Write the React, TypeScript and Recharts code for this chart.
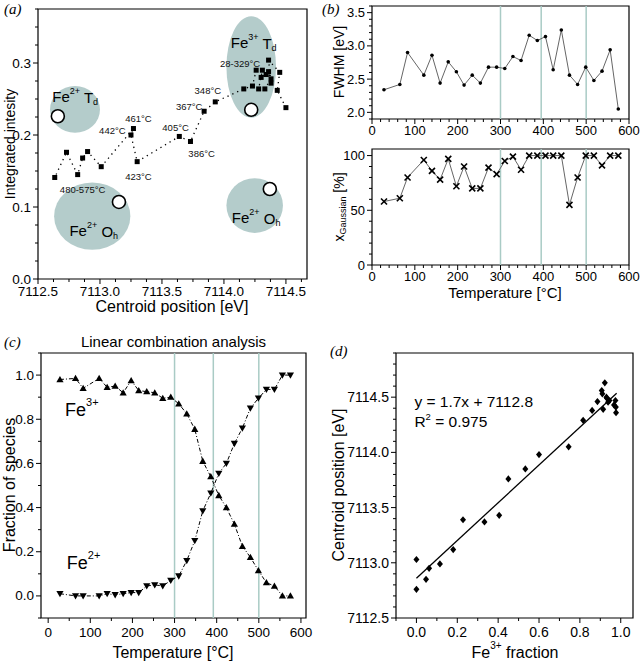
import React from "react"
import {
  ScatterChart,
  Scatter,
  LineChart,
  Line,
  XAxis,
  YAxis,
  ReferenceLine,
  ReferenceArea,
  ReferenceDot,
} from "recharts"

// ---- shared ----
const temps = [28, 65, 83, 121, 140, 159, 178, 197, 215, 234, 253, 272, 291, 310, 329, 348, 367, 386, 405, 423, 442, 461, 480, 499, 518, 537, 556, 575]

// ---- (a) centroid vs intensity, in temperature order ----
const aCentroid = [7114.5, 7114.43, 7114.45, 7114.36, 7114.38, 7114.36, 7114.3, 7114.34, 7114.38, 7114.33, 7114.28, 7114.31, 7114.26, 7114.23, 7114.16, 7113.93, 7113.84, 7113.73, 7113.64, 7113.3, 7113.25, 7113.27, 7113.01, 7112.9, 7112.86, 7112.82, 7112.73, 7112.635]
const aIntensity = [0.238, 0.262, 0.287, 0.304, 0.272, 0.288, 0.28, 0.284, 0.278, 0.264, 0.264, 0.29, 0.29, 0.268, 0.264, 0.246, 0.233, 0.191, 0.198, 0.163, 0.2, 0.209, 0.156, 0.177, 0.168, 0.145, 0.176, 0.141]
const aXTicks = [7112.5, 7113.0, 7113.5, 7114.0, 7114.5]
const aYTicks = [0, 0.1, 0.2, 0.3]
// reference regions (data bounds)
const aRegions = [
  { x1: 7112.597, x2: 7113.0, y1: 0.203, y2: 0.268 },
  { x1: 7112.63, x2: 7113.245, y1: 0.0405, y2: 0.134 },
  { x1: 7114.02, x2: 7114.476, y1: 0.064, y2: 0.14 },
  { x1: 7114.02, x2: 7114.42, y1: 0.224, y2: 0.365 },
]
const aRefCentroid = [7112.66, 7113.153, 7114.22, 7114.37]
const aRefIntensity = [0.226, 0.107, 0.235, 0.125]
const aTempLabels = ["28-329°C", "348°C", "367°C", "461°C", "442°C", "405°C", "386°C", "423°C", "480-575°C"]
const aTempLabelX = [7114.13, 7113.87, 7113.72, 7113.31, 7113.1, 7113.61, 7113.82, 7113.31, 7112.86]
const aTempLabelY = [0.3, 0.262, 0.239, 0.223, 0.206, 0.211, 0.174, 0.143, 0.124]
const aSpecies = [
  { ox: "2+", site: "d", x: 7112.8, y: 0.253 },
  { ox: "3+", site: "d", x: 7114.24, y: 0.328 },
  { ox: "2+", site: "h", x: 7112.95, y: 0.067 },
  { ox: "2+", site: "h", x: 7114.26, y: 0.085 },
]

// ---- (b) ----
const fwhm = [2.34, 2.42, 2.9, 2.56, 2.86, 2.44, 2.76, 2.61, 2.41, 2.56, 2.44, 2.68, 2.68, 2.66, 2.84, 2.78, 3.16, 3.08, 3.14, 2.64, 3.24, 2.56, 2.42, 2.68, 2.48, 2.62, 2.94, 2.05]
const xGauss = [58, 61, 80, 96, 86, 78, 97, 72, 90, 70, 70, 89, 83, 95, 99, 87, 100, 100, 100, 100, 100, 55, 80, 100, 100, 91, 100, 100]
const bLines = [300, 395, 500]
const tempTicks = [0, 100, 200, 300, 400, 500, 600]

// ---- (c) ----
const fe3 = [0.98, 0.985, 0.94, 0.985, 0.945, 0.95, 0.92, 0.975, 0.93, 0.925, 0.92, 0.895, 0.9, 0.87, 0.825, 0.755, 0.61, 0.54, 0.455, 0.4, 0.325, 0.225, 0.175, 0.115, 0.06, 0.045, 0.0, 0.0]
const fe2 = [0.01, 0.0, 0.0, 0.0, 0.01, 0.005, 0.01, 0.015, 0.015, 0.045, 0.05, 0.045, 0.07, 0.09, 0.16, 0.25, 0.385, 0.465, 0.555, 0.6, 0.69, 0.76, 0.85, 0.895, 0.935, 0.935, 1.0, 1.0]
const cLines = [300, 392, 500]
const cYTicks = [0, 0.2, 0.4, 0.6, 0.8, 1.0]

// ---- (d) ----
const dFraction = [0.0, 0.0, 0.047, 0.062, 0.115, 0.18, 0.228, 0.333, 0.405, 0.45, 0.533, 0.6, 0.745, 0.816, 0.86, 0.886, 0.907, 0.91, 0.914, 0.922, 0.93, 0.932, 0.938, 0.945, 0.967, 0.974, 0.976, 0.977]
const dCentroid = [7113.03, 7112.76, 7112.85, 7112.95, 7112.99, 7113.12, 7113.39, 7113.37, 7113.43, 7113.76, 7113.85, 7113.98, 7114.05, 7114.29, 7114.38, 7114.46, 7114.56, 7114.53, 7114.39, 7114.63, 7114.5, 7114.49, 7114.455, 7114.47, 7114.43, 7114.47, 7114.41, 7114.36]
const dXTicks = [0, 0.2, 0.4, 0.6, 0.8, 1.0]
const dYTicks = [7112.5, 7113.0, 7113.5, 7114.0, 7114.5]
const fitSlope = 1.71
const fitIntercept = 7112.86
const fitRange = [0, 0.98]

const GUIDE = "#a9cbc5"
const REGION = "#b4cccb"

const steps = (a: number, b: number, s: number) => {
  const out: number[] = []
  for (let v = a; v <= b + 1e-9; v += s) out.push(+v.toFixed(6))
  return out
}
const near = (list: number[], v: number) => list.some((m) => Math.abs(m - v) < 1e-6)

function BottomTick({ x, y, payload, majors, fmt, fs = 13, gap = 1 }: any) {
  const major = near(majors, payload.value)
  const len = major ? 5 : 3
  return (
    <g>
      <line x1={x} x2={x} y1={y} y2={y + len} stroke="#000" />
      {major && (
        <text x={x} y={y + 5 + gap} dy={fs * 0.8} textAnchor="middle" fontSize={fs} fill="#000">
          {fmt(payload.value)}
        </text>
      )}
    </g>
  )
}

function LeftTick({ x, y, payload, majors, fmt, fs = 13 }: any) {
  const major = near(majors, payload.value)
  const len = major ? 5 : 3
  return (
    <g>
      <line x1={x} x2={x - len} y1={y} y2={y} stroke="#000" />
      {major && (
        <text x={x - 7} y={y} dominantBaseline="central" textAnchor="end" fontSize={fs} fill="#000">
          {fmt(payload.value)}
        </text>
      )}
    </g>
  )
}

const vTitle = (content: React.ReactNode, x: number, y: number, fs: number) => () => (
  <text transform={`translate(${x},${y}) rotate(-90)`} textAnchor="middle" dominantBaseline="central" fontSize={fs} fill="#000">
    {content}
  </text>
)
const hTitle = (content: React.ReactNode, x: number, y: number, fs: number) => () => (
  <text x={x} y={y} textAnchor="middle" dominantBaseline="central" fontSize={fs} fill="#000">
    {content}
  </text>
)

const f1 = (v: number) => v.toFixed(1)
const f0 = (v: number) => String(Math.round(v))

const frame = (x: number[], y: number[]) => (
  <ReferenceArea x1={x[0]} x2={x[1]} y1={y[0]} y2={y[1]} fill="none" stroke="#000" strokeWidth={1.2} />
)

// ---------------- (a) ----------------
const A_X = [7112.5, 7114.67]
const A_Y = [0, 0.375]

function PanelA() {
  const pts = aCentroid.map((x, i) => ({ x, y: aIntensity[i] }))
  return (
    <ScatterChart width={320} height={315} margin={{ top: 9, right: 13, left: 0, bottom: 0 }}>
      {aRegions.map((r, i) => (
        <ReferenceArea
          key={"r" + i}
          x1={r.x1}
          x2={r.x2}
          y1={r.y1}
          y2={r.y2}
          shape={(p: any) => (
            <ellipse cx={p.x + p.width / 2} cy={p.y + p.height / 2} rx={Math.abs(p.width) / 2} ry={Math.abs(p.height) / 2} fill={REGION} />
          )}
        />
      ))}
      <XAxis
        type="number"
        dataKey="x"
        domain={A_X}
        allowDataOverflow
        ticks={steps(7112.5, 7114.625, 0.125)}
        interval={0}
        tickSize={0}
        tickMargin={0}
        tickLine={false}
        axisLine={false}
        height={36}
        tick={<BottomTick majors={aXTicks} fmt={f1} fs={13.5} gap={1} />}
        label={hTitle("Centroid position [eV]", 172, 306, 16)}
      />
      <YAxis
        type="number"
        dataKey="y"
        domain={A_Y}
        allowDataOverflow
        ticks={steps(0, 0.375, 0.025)}
        interval={0}
        tickSize={0}
        tickMargin={0}
        tickLine={false}
        axisLine={false}
        width={38}
        tick={<LeftTick majors={aYTicks} fmt={f1} fs={13.5} />}
        label={vTitle("Integrated intesity", 10, 144, 14)}
      />
      {frame(A_X, A_Y)}
      {aRefCentroid.map((x, i) => (
        <ReferenceDot key={"c" + i} x={x} y={aRefIntensity[i]} r={6.5} fill="#fff" stroke="#000" strokeWidth={1.6} />
      ))}
      <Scatter
        data={pts}
        isAnimationActive={false}
        line={{ stroke: "#000", strokeWidth: 1.3, strokeDasharray: "1.3 4" }}
        lineType="joint"
        shape={(p: any) => <rect x={p.cx - 2.5} y={p.cy - 2.5} width={5} height={5} fill="#000" />}
      />
      {aTempLabels.map((t, i) => (
        <ReferenceDot
          key={"t" + i}
          x={aTempLabelX[i]}
          y={aTempLabelY[i]}
          shape={(p: any) => (
            <text x={p.cx} y={p.cy} textAnchor="middle" dominantBaseline="central" fontSize={9.5} fill="#111">
              {t}
            </text>
          )}
        />
      ))}
      {aSpecies.map((s, i) => (
        <ReferenceDot
          key={"s" + i}
          x={s.x}
          y={s.y}
          shape={(p: any) => (
            <text x={p.cx} y={p.cy} textAnchor="middle" dominantBaseline="central" fontSize={15} fill="#000">
              Fe
              <tspan fontSize={9} dy={-6}>{s.ox}</tspan>
              <tspan dy={6}> {s.site === "d" ? "T" : "O"}</tspan>
              <tspan fontSize={9} dy={5}>{s.site}</tspan>
            </text>
          )}
        />
      ))}
    </ScatterChart>
  )
}

// ---------------- (b) ----------------
const B_X = [0, 600]
const B1_Y = [1.9, 3.6]
const B2_Y = [0, 106]

function PanelB() {
  const top = temps.map((t, i) => ({ t, v: fwhm[i] }))
  const bottom = temps.map((t, i) => ({ t, v: xGauss[i] }))
  const xAxis = (h: number, title?: any) => (
    <XAxis
      type="number"
      dataKey="t"
      domain={B_X}
      allowDataOverflow
      ticks={steps(0, 600, 20)}
      interval={0}
      tickSize={0}
      tickMargin={0}
      tickLine={false}
      axisLine={false}
      height={h}
      tick={<BottomTick majors={tempTicks} fmt={f0} />}
      label={title}
    />
  )
  return (
    <div>
      <LineChart width={310} height={140} data={top} margin={{ top: 6, right: 11, left: 0, bottom: 0 }}>
        {xAxis(21)}
        <YAxis
          type="number"
          domain={B1_Y}
          allowDataOverflow
          ticks={steps(1.9, 3.6, 0.1)}
          interval={0}
          tickSize={0}
          tickMargin={0}
          tickLine={false}
          axisLine={false}
          width={42}
          tick={<LeftTick majors={[2, 2.5, 3, 3.5]} fmt={f1} />}
          label={vTitle("FWHM [eV]", 9, 62, 14)}
        />
        {frame(B_X, B1_Y)}
        {bLines.map((x) => (
          <ReferenceLine key={x} x={x} stroke={GUIDE} strokeWidth={1.5} />
        ))}
        <Line
          dataKey="v"
          stroke="#666"
          strokeWidth={1}
          isAnimationActive={false}
          dot={(p: any) => <circle key={p.index} cx={p.cx} cy={p.cy} r={1.8} fill="#000" />}
        />
      </LineChart>
      <LineChart width={310} height={165} data={bottom} margin={{ top: 9, right: 11, left: 0, bottom: 0 }}>
        {xAxis(40, hTitle("Temperature [°C]", 175, 152, 15))}
        <YAxis
          type="number"
          domain={B2_Y}
          allowDataOverflow
          ticks={steps(0, 100, 10)}
          interval={0}
          tickSize={0}
          tickMargin={0}
          tickLine={false}
          axisLine={false}
          width={42}
          tick={<LeftTick majors={[0, 50, 100]} fmt={f0} />}
          label={vTitle(
            <>
              x<tspan fontSize={9} dy={4}>Gaussian</tspan>
              <tspan dy={-4}> [%]</tspan>
            </>,
            9,
            67,
            14
          )}
        />
        {frame(B_X, B2_Y)}
        {bLines.map((x) => (
          <ReferenceLine key={x} x={x} stroke={GUIDE} strokeWidth={1.5} />
        ))}
        <Line
          dataKey="v"
          stroke="#666"
          strokeWidth={1}
          isAnimationActive={false}
          dot={(p: any) => (
            <g key={p.index} stroke="#000" strokeWidth={1.6}>
              <line x1={p.cx - 3} y1={p.cy - 3} x2={p.cx + 3} y2={p.cy + 3} />
              <line x1={p.cx - 3} y1={p.cy + 3} x2={p.cx + 3} y2={p.cy - 3} />
            </g>
          )}
        />
      </LineChart>
    </div>
  )
}

// ---------------- (c) ----------------
const C_X = [-17, 612]
const C_Y = [-0.1, 1.1]

function PanelC() {
  const data = temps.map((t, i) => ({ t, fe3: fe3[i], fe2: fe2[i] }))
  const tri = (up: boolean) => (p: any) => {
    const s = 3.6
    const d = up
      ? `M${p.cx},${p.cy - s} L${p.cx - s},${p.cy + s * 0.75} L${p.cx + s},${p.cy + s * 0.75} Z`
      : `M${p.cx},${p.cy + s} L${p.cx - s},${p.cy - s * 0.75} L${p.cx + s},${p.cy - s * 0.75} Z`
    return <path key={p.index} d={d} fill="#000" />
  }
  return (
    <LineChart width={320} height={345} data={data} margin={{ top: 33, right: 14, left: 0, bottom: 0 }}>
      <XAxis
        type="number"
        dataKey="t"
        domain={C_X}
        allowDataOverflow
        ticks={steps(0, 600, 50)}
        interval={0}
        tickSize={0}
        tickMargin={0}
        tickLine={false}
        axisLine={false}
        height={47}
        tick={<BottomTick majors={tempTicks} fmt={f0} fs={13.5} gap={3} />}
        label={hTitle("Temperature [°C]", 173, 332, 16)}
      />
      <YAxis
        type="number"
        domain={C_Y}
        allowDataOverflow
        ticks={steps(-0.1, 1.1, 0.1)}
        interval={0}
        tickSize={0}
        tickMargin={0}
        tickLine={false}
        axisLine={false}
        width={41}
        tick={<LeftTick majors={cYTicks} fmt={f1} fs={13.5} />}
        label={vTitle("Fraction of species", 9, 165, 16)}
      />
      {frame(C_X, C_Y)}
      {cLines.map((x) => (
        <ReferenceLine key={x} x={x} stroke={GUIDE} strokeWidth={1.5} />
      ))}
      <Line dataKey="fe3" stroke="#000" strokeWidth={1} strokeDasharray="4 2 1 2" isAnimationActive={false} dot={tri(true)} />
      <Line dataKey="fe2" stroke="#000" strokeWidth={1} strokeDasharray="4 2 1 2" isAnimationActive={false} dot={tri(false)} />
      <ReferenceDot
        x={80}
        y={0.84}
        shape={(p: any) => (
          <text x={p.cx} y={p.cy} textAnchor="middle" dominantBaseline="central" fontSize={18} fill="#000">
            Fe<tspan fontSize={11} dy={-8}>3+</tspan>
          </text>
        )}
      />
      <ReferenceDot
        x={84}
        y={0.15}
        shape={(p: any) => (
          <text x={p.cx} y={p.cy} textAnchor="middle" dominantBaseline="central" fontSize={18} fill="#000">
            Fe<tspan fontSize={11} dy={-8}>2+</tspan>
          </text>
        )}
      />
    </LineChart>
  )
}

// ---------------- (d) ----------------
const D_X = [-0.1, 1.06]
const D_Y = [7112.5, 7114.9]

function PanelD() {
  const pts = dFraction.map((x, i) => ({ x, y: dCentroid[i] }))
  return (
    <ScatterChart width={320} height={345} margin={{ top: 33, right: 7, left: 0, bottom: 0 }}>
      <XAxis
        type="number"
        dataKey="x"
        domain={D_X}
        allowDataOverflow
        ticks={steps(-0.1, 1.0, 0.1)}
        interval={0}
        tickSize={0}
        tickMargin={0}
        tickLine={false}
        axisLine={false}
        height={47}
        tick={<BottomTick majors={dXTicks} fmt={f1} fs={14} gap={3} />}
        label={hTitle(
          <>
            Fe<tspan fontSize={10} dy={-7}>3+</tspan>
            <tspan dy={7}> fraction</tspan>
          </>,
          195,
          332,
          16
        )}
      />
      <YAxis
        type="number"
        dataKey="y"
        domain={D_Y}
        allowDataOverflow
        ticks={steps(7112.5, 7114.9, 0.1)}
        interval={0}
        tickSize={0}
        tickMargin={0}
        tickLine={false}
        axisLine={false}
        width={76}
        tick={<LeftTick majors={dYTicks} fmt={f1} fs={14} />}
        label={vTitle("Centroid position [eV]", 18, 165, 16)}
      />
      {frame(D_X, D_Y)}
      <ReferenceLine
        segment={[
          { x: fitRange[0], y: fitIntercept + fitSlope * fitRange[0] },
          { x: fitRange[1], y: fitIntercept + fitSlope * fitRange[1] },
        ]}
        stroke="#000"
        strokeWidth={1.3}
      />
      <Scatter
        data={pts}
        isAnimationActive={false}
        shape={(p: any) => (
          <path d={`M${p.cx},${p.cy - 3.6} L${p.cx + 3},${p.cy} L${p.cx},${p.cy + 3.6} L${p.cx - 3},${p.cy} Z`} fill="#000" />
        )}
      />
      <ReferenceDot
        x={-0.01}
        y={7114.46}
        shape={(p: any) => (
          <text x={p.cx} y={p.cy} textAnchor="start" dominantBaseline="central" fontSize={15.5} fill="#000">
            y = 1.7x + 7112.8
          </text>
        )}
      />
      <ReferenceDot
        x={-0.01}
        y={7114.28}
        shape={(p: any) => (
          <text x={p.cx} y={p.cy} textAnchor="start" dominantBaseline="central" fontSize={15.5} fill="#000">
            R<tspan fontSize={9.5} dy={-5}>2</tspan>
            <tspan dy={5}> = 0.975</tspan>
          </text>
        )}
      />
    </ScatterChart>
  )
}

const letter = (t: string, left: number, top: number) => (
  <div
    style={{
      position: "absolute",
      left,
      top,
      fontFamily: "'Liberation Serif', 'DejaVu Serif', serif",
      fontStyle: "italic",
      fontSize: 15,
      lineHeight: 1,
    }}
  >
    {t}
  </div>
)

export default function App() {
  return (
    <div
      style={{
        position: "absolute",
        left: 0,
        top: 0,
        width: 640,
        height: 665,
        background: "#fff",
        fontFamily: "'Liberation Sans', Arial, sans-serif",
        overflow: "hidden",
      }}
    >
      <div style={{ position: "absolute", left: 0, top: 0 }}>
        <PanelA />
      </div>
      <div style={{ position: "absolute", left: 330, top: 0 }}>
        <PanelB />
      </div>
      <div style={{ position: "absolute", left: 0, top: 320 }}>
        <PanelC />
      </div>
      <div style={{ position: "absolute", left: 320, top: 320 }}>
        <PanelD />
      </div>
      <div
        style={{
          position: "absolute",
          left: 41,
          width: 265,
          top: 334,
          textAlign: "center",
          fontSize: 15,
          lineHeight: 1,
        }}
      >
        Linear combination analysis
      </div>
      {letter("(a)", 4, 2)}
      {letter("(b)", 322, 2)}
      {letter("(c)", 4, 335)}
      {letter("(d)", 330, 344)}
    </div>
  )
}
